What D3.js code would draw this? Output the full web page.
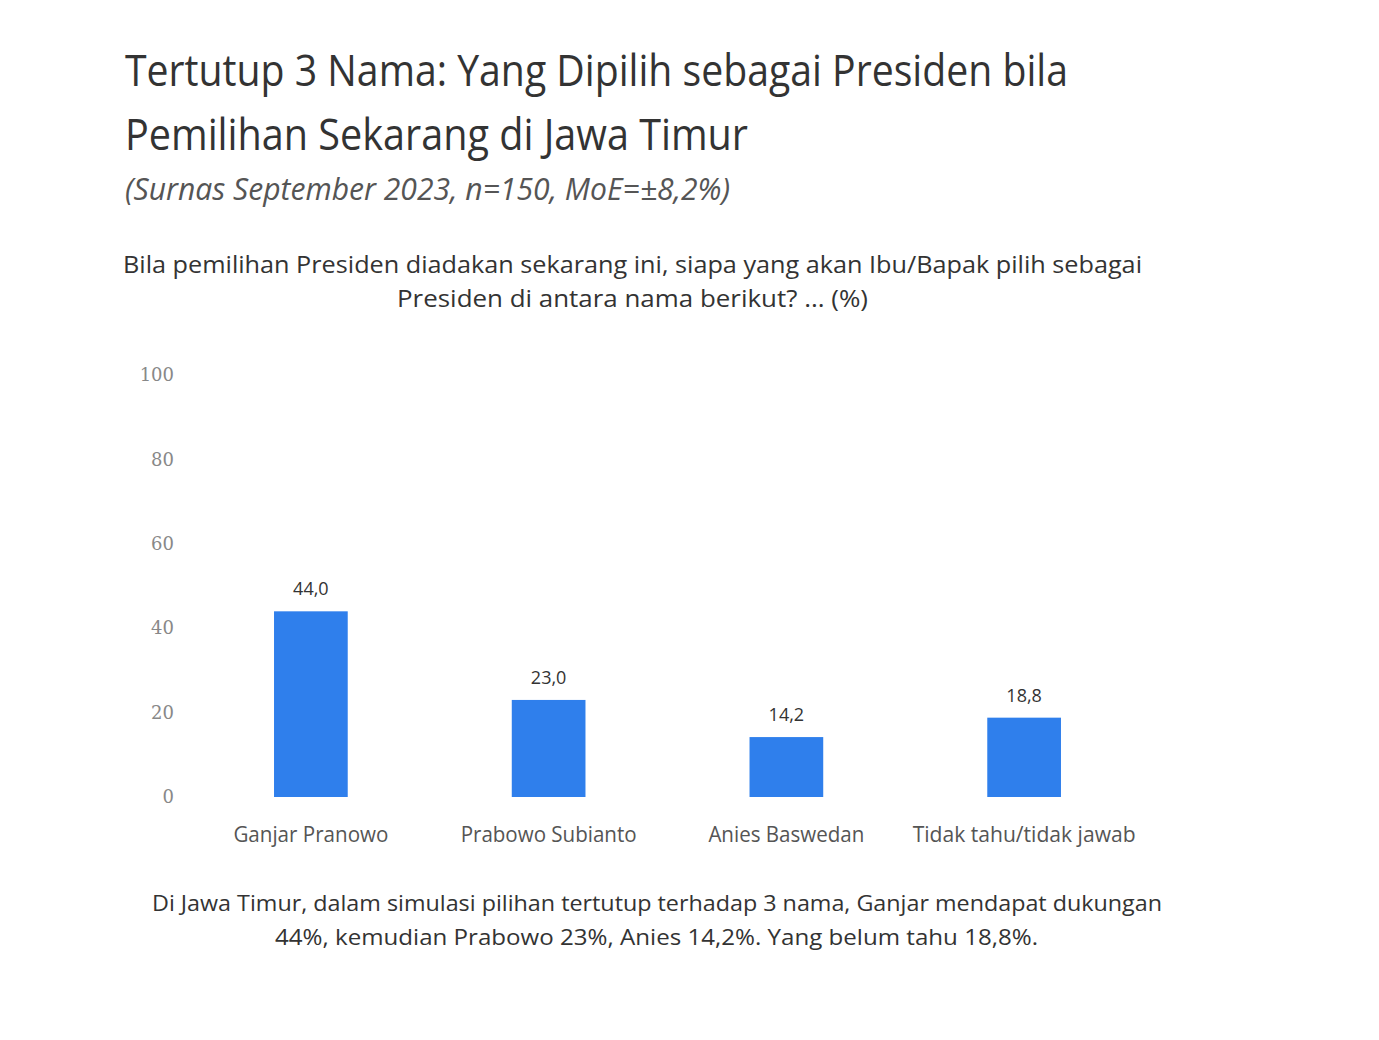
<!DOCTYPE html>
<html><head><meta charset="utf-8">
<script src="https://cdn.jsdelivr.net/npm/d3@7"></script>
<style>body{margin:0;background:#fff;} text{font-family:"Open Sans","Noto Sans",sans-serif;}</style>
</head><body>
<svg id="chart" width="1379" height="1040"></svg>
<script>
const categories = ["Ganjar Pranowo", "Prabowo Subianto", "Anies Baswedan", "Tidak tahu/tidak jawab"];
const values = [44.0, 23.0, 14.2, 18.8];
const yTicks = [0, 20, 40, 60, 80, 100];
const labelWidths = [155, 176, 156, 223];

const svg = d3.select("#chart");

// helper: text squeezed to the width seen in the slide
function line(x, y, size, w, str, anchor, fill, italic) {
    return svg.append("text").attr("x", x).attr("y", y).attr("font-size", size)
        .attr("text-anchor", anchor || "start").attr("fill", fill || "#333")
        .attr("font-style", italic ? "italic" : "normal")
        .attr("textLength", w).attr("lengthAdjust", "spacingAndGlyphs").text(str);
}

line(125, 86, 44, 943, "Tertutup 3 Nama: Yang Dipilih sebagai Presiden bila");
line(125, 150, 44, 623, "Pemilihan Sekarang di Jawa Timur");
line(125, 200, 31, 605, "(Surnas September 2023, n=150, MoE=±8,2%)", "start", "#555", true);

line(123, 273, 23, 1019, "Bila pemilihan Presiden diadakan sekarang ini, siapa yang akan Ibu/Bapak pilih sebagai");
line(397, 307, 23, 471, "Presiden di antara nama berikut? ... (%)");

const x = d3.scaleBand().domain(categories).range([192, 1143]).paddingInner(0.69).paddingOuter(0.345);
const y = d3.scaleLinear().domain([0, 100]).range([797, 375]);

const yAxis = svg.append("g").attr("transform", "translate(174,0)")
    .call(d3.axisLeft(y).tickValues(yTicks).tickSize(0).tickPadding(0));
yAxis.select(".domain").remove();
yAxis.selectAll("text").attr("font-size", 18).attr("fill", "#888")
    .style("font-family", "'DejaVu Serif','Liberation Serif',serif");

svg.selectAll("rect.bar").data(values).enter().append("rect").attr("class", "bar")
    .attr("x", (d, i) => x(categories[i])).attr("width", x.bandwidth())
    .attr("y", d => y(d)).attr("height", d => y(0) - y(d)).attr("fill", "#2f7fec");

svg.selectAll("text.val").data(values).enter().append("text").attr("class", "val")
    .attr("x", (d, i) => x(categories[i]) + x.bandwidth() / 2).attr("y", d => y(d) - 16)
    .attr("text-anchor", "middle").attr("font-size", 18).attr("fill", "#333")
    .text(d => d.toFixed(1).replace(".", ","));

const xAxis = svg.append("g").attr("transform", "translate(0,797)")
    .call(d3.axisBottom(x).tickSize(0).tickPadding(30));
xAxis.select(".domain").remove();
xAxis.selectAll("text").attr("font-size", 21).attr("fill", "#555")
    .attr("textLength", (d, i) => labelWidths[i]).attr("lengthAdjust", "spacingAndGlyphs");

line(152, 911, 22, 1010, "Di Jawa Timur, dalam simulasi pilihan tertutup terhadap 3 nama, Ganjar mendapat dukungan");
line(275, 945, 22, 763, "44%, kemudian Prabowo 23%, Anies 14,2%. Yang belum tahu 18,8%.");
</script>
</body></html>
